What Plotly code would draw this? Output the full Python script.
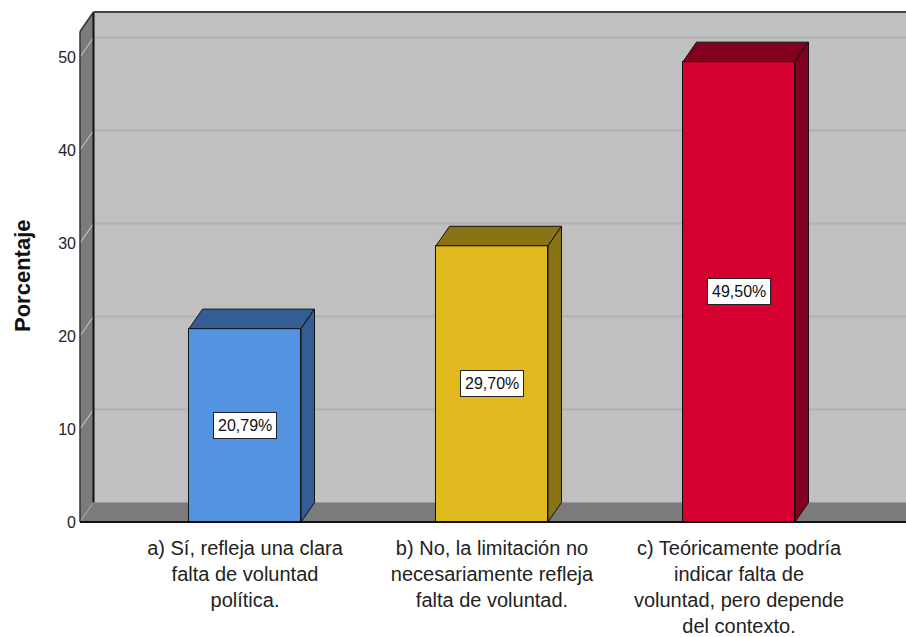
import plotly.graph_objects as go

# ---- data ----
categories = [
    "a) Sí, refleja una clara<br>falta de voluntad<br>política.",
    "b) No, la limitación no<br>necesariamente refleja<br>falta de voluntad.",
    "c) Teóricamente podría<br>indicar falta de<br>voluntad, pero depende<br>del contexto.",
]
values = [20.79, 29.70, 49.50]
value_labels = ["20,79%", "29,70%", "49,50%"]
y_ticks = [0, 10, 20, 30, 40, 50]
y_title = "Porcentaje"

# ---- styling ----
front_colors = ["#5394e2", "#e0b91f", "#d50030"]
dark_colors = ["#335d93", "#8a7315", "#80001e"]
wall_color = "#7b7b7b"
back_color = "#c0c0c0"
FONT = "Liberation Sans, Arial, sans-serif"

W, H = 906, 637
ML, MR, MT, MB = 76, 0, 8, 111
PX_PER_CAT = 247.0
CENTER0_PX = 245.0
PX_PER_Y = 9.3
ZERO_PY = 522.0

def X(px):
    return (px - CENTER0_PX) / PX_PER_CAT

def Yv(py):
    return (ZERO_PY - py) / PX_PER_Y

DX = 13.5 / PX_PER_CAT
DY = 19.5 / PX_PER_Y
BW = 112.0 / PX_PER_CAT

xr = [X(ML), X(W - MR)]
yr = [Yv(H - MB), Yv(MT)]
x0 = X(80)          # front-left edge of the floor / left wall
xmax = xr[1]
ytop = Yv(12)       # top of back wall

xs = list(range(len(categories)))

fig = go.Figure()

# front faces (bars)
fig.add_trace(go.Bar(
    x=xs, y=values, width=BW,
    marker=dict(color=front_colors, line=dict(color="#111111", width=1)),
    hoverinfo="skip", showlegend=False,
))

# top and side faces (3D effect) derived from the values
for i, v in enumerate(values):
    xl, xrr = i - BW / 2, i + BW / 2
    fig.add_trace(go.Scatter(
        x=[xl, xl + DX, xrr + DX, xrr, xl],
        y=[v, v + DY, v + DY, v, v],
        mode="lines", fill="toself", fillcolor=dark_colors[i],
        line=dict(color="#111111", width=1), hoverinfo="skip", showlegend=False,
    ))
    fig.add_trace(go.Scatter(
        x=[xrr, xrr + DX, xrr + DX, xrr, xrr],
        y=[0, DY, v + DY, v, 0],
        mode="lines", fill="toself", fillcolor=dark_colors[i],
        line=dict(color="#111111", width=1), hoverinfo="skip", showlegend=False,
    ))

shapes = []
# back wall
shapes.append(dict(type="rect", xref="x", yref="y", x0=x0 + DX, x1=xmax, y0=DY, y1=ytop,
                   fillcolor=back_color, line=dict(width=0), layer="below"))
# left wall
shapes.append(dict(type="path", xref="x", yref="y",
                   path=f"M {x0},0 L {x0+DX},{DY} L {x0+DX},{ytop} L {x0},{ytop-DY} Z",
                   fillcolor=wall_color, line=dict(width=0), layer="below"))
# floor
shapes.append(dict(type="path", xref="x", yref="y",
                   path=f"M {x0},0 L {x0+DX},{DY} L {xmax},{DY} L {xmax},0 Z",
                   fillcolor=wall_color, line=dict(width=0), layer="below"))
# gridlines on back wall and on left wall
for t in y_ticks[1:]:
    shapes.append(dict(type="line", xref="x", yref="y", x0=x0 + DX, x1=xmax, y0=t + DY, y1=t + DY,
                       line=dict(color="#b0b0b0", width=2), layer="below"))
    shapes.append(dict(type="line", xref="x", yref="y", x0=x0, x1=x0 + DX, y0=t, y1=t + DY,
                       line=dict(color="#d4d4d4", width=1), layer="below"))
# floor / back wall junction and left-bottom diagonal
shapes.append(dict(type="line", xref="x", yref="y", x0=x0 + DX, x1=xmax, y0=DY, y1=DY,
                   line=dict(color="#9a9a9a", width=1), layer="below"))
shapes.append(dict(type="line", xref="x", yref="y", x0=x0, x1=x0 + DX, y0=0, y1=DY,
                   line=dict(color="#a8a8a8", width=1), layer="below"))
# edges
shapes.append(dict(type="line", xref="x", yref="y", x0=x0 + DX, x1=x0 + DX, y0=DY, y1=ytop,
                   line=dict(color="#111111", width=2), layer="below"))
shapes.append(dict(type="line", xref="x", yref="y", x0=x0 + DX, x1=xmax, y0=ytop, y1=ytop,
                   line=dict(color="#444444", width=2), layer="below"))
shapes.append(dict(type="line", xref="x", yref="y", x0=x0, x1=x0 + DX, y0=ytop - DY, y1=ytop,
                   line=dict(color="#333333", width=1.5), layer="below"))
shapes.append(dict(type="line", xref="x", yref="y", x0=x0, x1=x0, y0=0, y1=ytop - DY,
                   line=dict(color="#333333", width=1.5), layer="below"))
shapes.append(dict(type="line", xref="x", yref="y", x0=x0, x1=xmax, y0=0, y1=0,
                   line=dict(color="#111111", width=2), layer="above"))

annotations = []
for i, v in enumerate(values):
    annotations.append(dict(
        x=i, y=v / 2, xref="x", yref="y", text=value_labels[i], showarrow=False,
        font=dict(family=FONT, size=16, color="#111111"),
        bgcolor="white", bordercolor="#222222", borderwidth=1, borderpad=4,
    ))
plot_w = W - ML - MR
plot_h = H - MT - MB
annotations.append(dict(
    x=(22 - ML) / plot_w, y=(H - MB - 276) / plot_h, xref="paper", yref="paper",
    xanchor="center", yanchor="middle",
    text=f"<b>{y_title}</b>", textangle=-90, showarrow=False,
    font=dict(family=FONT, size=22, color="#111111"),
))

fig.update_layout(
    width=W, height=H,
    margin=dict(l=ML, r=MR, t=MT, b=MB, pad=0, autoexpand=False),
    paper_bgcolor="white", plot_bgcolor="white",
    shapes=shapes, annotations=annotations,
    bargap=0,
    xaxis=dict(range=xr, tickmode="array", tickvals=xs, ticktext=categories,
               showgrid=False, zeroline=False, showline=False, automargin=False,
               ticks="outside", ticklen=4, tickcolor="rgba(0,0,0,0)",
               tickfont=dict(family=FONT, size=20, color="#222222"),
               fixedrange=True),
    yaxis=dict(range=yr, tickmode="array", tickvals=y_ticks,
               showgrid=False, zeroline=False, showline=False, automargin=False,
               ticks="", ticklabelstandoff=-1,
               tickfont=dict(family=FONT, size=16, color="#222222"),
               fixedrange=True),
)

fig.write_html(
    "out.html",
    config={"displayModeBar": False},
    post_script="document.body.style.margin='0';document.body.style.overflow='hidden';",
)
